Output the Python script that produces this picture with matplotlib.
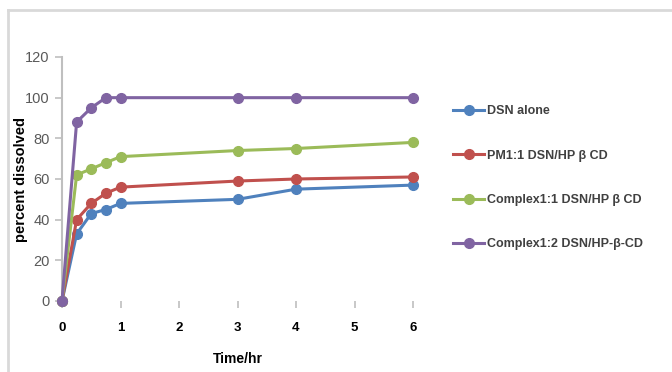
import numpy as np
import matplotlib.pyplot as plt
from matplotlib.lines import Line2D

# dissolution time points (hr) and percent dissolved for each formulation
time_hr = [0, 0.25, 0.5, 0.75, 1, 3, 4, 6]
dsn_alone = [0, 33, 43, 45, 48, 50, 55, 57]
pm_11 = [0, 40, 48, 53, 56, 59, 60, 61]
complex_11 = [0, 62, 65, 68, 71, 74, 75, 78]
complex_12 = [0, 88, 95, 100, 100, 100, 100, 100]

labels = ['DSN alone', 'PM1:1 DSN/HP \u03b2 CD', 'Complex1:1 DSN/HP \u03b2 CD',
          'Complex1:2 DSN/HP-\u03b2-CD']
colors = ['#4F81BD', '#C0504D', '#9BBB59', '#8064A2']
series = [dsn_alone, pm_11, complex_11, complex_12]

plt.rcParams['font.family'] = ['Liberation Sans', 'DejaVu Sans']

fig = plt.figure(figsize=(6.72, 3.72), dpi=100)
ax = fig.add_axes([62/672, 1-301/372, 351/672, 244/372])

for vals, c in zip(series, colors):
    ax.plot(time_hr, vals, color=c, lw=2.2, marker='o', ms=7, clip_on=False, zorder=3)

ax.set_xlim(0, 6)
ax.set_ylim(0, 120)
ax.set_yticks(np.arange(0, 121, 20))
ax.set_xticks(range(7))
for s in ['top', 'right', 'bottom']:
    ax.spines[s].set_visible(False)
ax.spines['left'].set_color('#bfbfbf')
ax.spines['left'].set_linewidth(1.5)
ax.tick_params(axis='y', colors='#bfbfbf', labelcolor='#595959', labelsize=10.5,
               length=5, width=1.2, pad=4)
ax.tick_params(axis='x', direction='out', colors='#bfbfbf', labelcolor='black',
               labelsize=9.5, length=5, width=1.2, pad=10)
for t in ax.get_xticklabels():
    t.set_fontweight('bold')

ax.set_xlabel('Time/hr', fontsize=10, fontweight='bold', labelpad=13)
ax.set_ylabel('percent dissolved', fontsize=10.5, fontweight='bold')
ax.yaxis.set_label_coords(-34/351, 0.5)

handles = [Line2D([], [], color=c, lw=2.2, marker='o', ms=7) for c in colors]
leg = fig.legend(handles, labels, loc='upper left', bbox_to_anchor=(448/672, 1-100/372),
                 frameon=False, fontsize=9, labelspacing=2.6, handlelength=2.5,
                 handletextpad=0.2, borderaxespad=0)
for t in leg.get_texts():
    t.set_color('#404040')
    t.set_fontweight('bold')

# light frame along the left and top edges
fig.add_artist(Line2D([8/672, 8/672], [0, 1-10/372], color='#d9d9d9', lw=2,
                      transform=fig.transFigure))
fig.add_artist(Line2D([8/672, 1], [1-10/372, 1-10/372], color='#d9d9d9', lw=2,
                      transform=fig.transFigure))

fig.savefig('out.png', dpi=100)
